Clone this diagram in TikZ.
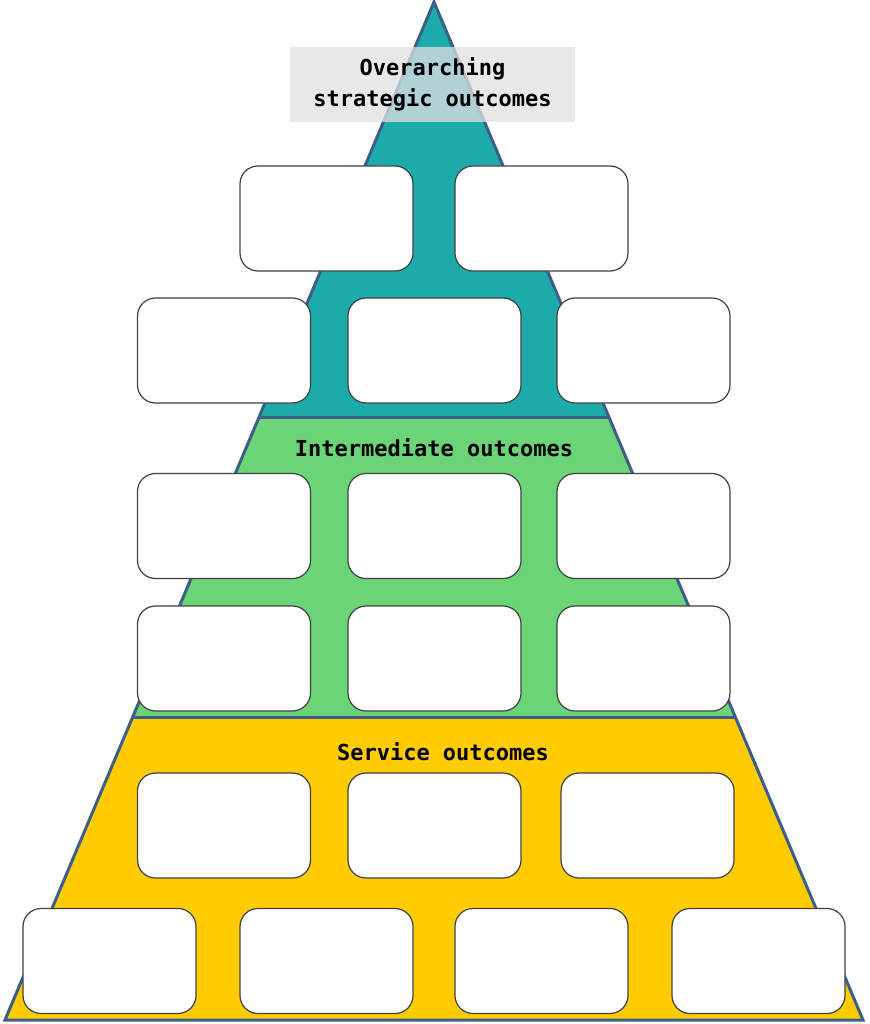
\documentclass[tikz,border=0pt]{standalone}
\usepackage{fontspec}
\setmonofont{DejaVu Sans Mono}
\usepackage{xcolor}
\usepackage{tikz}
\usetikzlibrary{calc}
\definecolor{pyrteal}{HTML}{1DAAAB}
\definecolor{pyrgreen}{HTML}{6AD476}
\definecolor{pyryellow}{HTML}{FFCC00}
\definecolor{pyredge}{HTML}{3B5F88}
\definecolor{pyrbox}{HTML}{404040}
\definecolor{pyrlabel}{HTML}{E2E0E2}

\begin{document}
\begin{tikzpicture}[x=1pt,y=-1pt,
    outbox/.style={draw=pyrbox,fill=white,line width=1.2pt,rounded corners=18pt,
      minimum width=173pt,minimum height=105pt,inner sep=0pt},
    tierlabel/.style={font=\ttfamily\bfseries\fontsize{22}{31}\selectfont,text=black}]
    \useasboundingbox (0,0) rectangle (869,1024);
    \coordinate (apex) at (434,2);
    \coordinate (bl) at (5,1020);
    \coordinate (br) at (863,1020);
    \coordinate (tl) at ($(apex)!0.4086!(bl)$);
    \coordinate (tr) at ($(apex)!0.4086!(br)$);
    \coordinate (ml) at ($(apex)!0.7024!(bl)$);
    \coordinate (mr) at ($(apex)!0.7024!(br)$);
    % three tiers
    \fill[pyrteal] (apex) -- (tr) -- (tl) -- cycle;
    \fill[pyrgreen] (tl) -- (tr) -- (mr) -- (ml) -- cycle;
    \fill[pyryellow] (ml) -- (mr) -- (br) -- (bl) -- cycle;
    \draw[pyredge,line width=3pt] (tl) -- (tr);
    \draw[pyredge,line width=3pt] (ml) -- (mr);
    \draw[pyredge,line width=3pt,line join=miter] (apex) -- (br) -- (bl) -- cycle;
    % labels
    \node[tierlabel,fill=pyrlabel,fill opacity=0.75,text opacity=1,align=center,
      minimum width=285pt,minimum height=75pt,inner sep=0pt] (toplbl) at (432.5,84.5)
      {Overarching\\strategic outcomes};
    \node[tierlabel] (midlbl) at (434,448) {Intermediate outcomes};
    \node[tierlabel] (botlbl) at (443,752) {Service outcomes};
    % outcome boxes
    \foreach \bx/\by/\bn in {326.5/218.5/a1,541.5/218.5/a2,
        224/350.5/a3,434.5/350.5/a4,643.5/350.5/a5,
        224/526/b1,434.5/526/b2,643.5/526/b3,
        224/658.5/b4,434.5/658.5/b5,643.5/658.5/b6,
        224/825.5/c1,434.5/825.5/c2,647.5/825.5/c3,
        109.5/961/c4,326.5/961/c5,541.5/961/c6,758.5/961/c7}
      \node[outbox] (\bn) at (\bx,\by) {};
\end{tikzpicture}
\end{document}
